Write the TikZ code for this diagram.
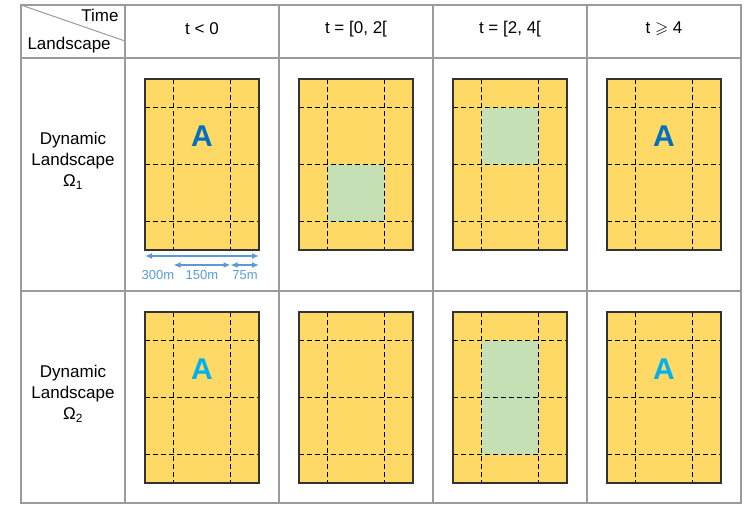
\documentclass[tikz,border=0pt]{standalone}
\usepackage{fontspec}
\setmainfont{Liberation Sans}
\usepackage{amssymb}
\usetikzlibrary{arrows.meta}

\definecolor{tabgray}{RGB}{155,155,155}
\definecolor{sand}{RGB}{255,217,102}
\definecolor{meadow}{RGB}{197,224,180}
\definecolor{darkA}{RGB}{0,112,192}
\definecolor{lightA}{RGB}{0,176,240}
\definecolor{dimblue}{RGB}{91,155,213}

\begin{document}
\begin{tikzpicture}[x=1pt,y=-1pt,>={Latex[length=7pt,width=6pt]},
txt/.style={font=\fontsize{17}{21}\selectfont},
small/.style={font=\fontsize{13}{15}\selectfont,text=dimblue},
letter/.style={font=\fontsize{30}{30}\selectfont\bfseries},
gridline/.style={dashed,dash pattern=on 5pt off 3pt,line width=1.4pt},
border/.style={line width=1.6pt,black!80},
rule/.style={tabgray,line width=1.5pt}
]

% Parameters
\def\u{28.5}

\useasboundingbox (0,0) rectangle (749,504);

% Panels
\foreach \i in {1,...,4}
\foreach \ty in {79,312}
{
\pgfmathsetmacro{\cx}{48+154*\i}
\fill[sand] (\cx-2*\u,\ty) rectangle (\cx+2*\u,\ty+6*\u);
}

% Green zones
\fill[meadow] (356-\u,79+3*\u) rectangle (356+\u,79+5*\u);
\fill[meadow] (510-\u,79+\u) rectangle (510+\u,79+3*\u);
\fill[meadow] (510-\u,312+\u) rectangle (510+\u,312+5*\u);

% Grid lines and frames
\foreach \i in {1,...,4}
\foreach \ty in {79,312}
{
\pgfmathsetmacro{\cx}{48+154*\i}
\foreach \dx in {-1,1}
\draw[gridline] (\cx+\dx*\u,\ty) -- (\cx+\dx*\u,\ty+6*\u);
\foreach \dy in {1,3,5}
\draw[gridline] (\cx-2*\u,\ty+\dy*\u) -- (\cx+2*\u,\ty+\dy*\u);
\draw[border] (\cx-2*\u,\ty) rectangle (\cx+2*\u,\ty+6*\u);
}

% Letters
\node[letter,text=darkA] (A11) at (202,79+2*\u) {A};
\node[letter,text=darkA] (A14) at (664,79+2*\u) {A};
\node[letter,text=lightA] (A21) at (202,312+2*\u) {A};
\node[letter,text=lightA] (A24) at (664,312+2*\u) {A};

% Scale arrows
\coordinate (a0) at (202-2*\u,256);
\coordinate (a3) at (202+2*\u,256);
\coordinate (b1) at (202-\u,265);
\coordinate (b2) at (202+\u,265);
\coordinate (b3) at (202+2*\u,265);
\draw[<->,dimblue,line width=1.5pt] (a0) -- (a3);
\draw[<->,dimblue,line width=1.5pt] (b1) -- (b2);
\draw[<->,dimblue,line width=1.5pt] (b2) -- (b3);
\node[small] (l300) at (158,275) {300m};
\node[small] (l150) at (202,275) {150m};
\node[small] (l75) at (245,275) {75m};

% Table
\draw[rule] (21,5) rectangle (741,503);
\foreach \x in {125,279,433,587}
\draw[rule] (\x,5) -- (\x,503);
\draw[rule] (21,58) -- (741,58);
\draw[rule] (21,291) -- (741,291);
\draw[tabgray,line width=1pt] (21,5) -- (125,41);

% Header
\node[txt,anchor=east] (time) at (122,15) {Time};
\node[txt,anchor=west] (land) at (24,45) {Landscape};
\foreach \i/\t in {1/{t < 0},2/{t = [0, 2[},3/{t = [2, 4[},4/{t $\geqslant$ 4}}
\node[txt] (h\i) at (48+154*\i,29) {\t};

% Rows
\node[txt,align=center] (row1) at (73,161) {Dynamic\\Landscape\\Ω\textsubscript{1}};
\node[txt,align=center] (row2) at (73,394) {Dynamic\\Landscape\\Ω\textsubscript{2}};

\end{tikzpicture}
\end{document}
